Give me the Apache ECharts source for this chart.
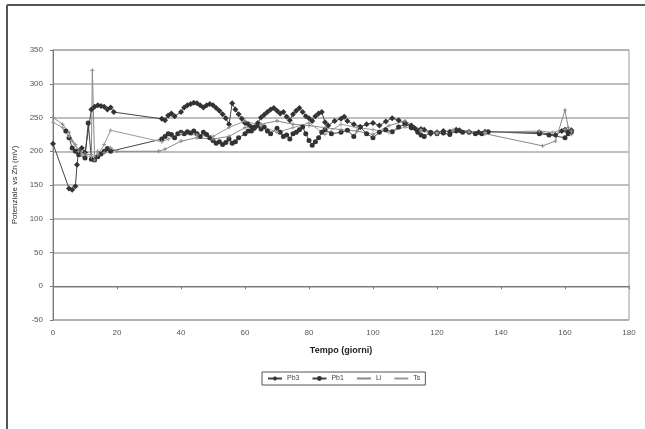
<!DOCTYPE html>
<html>
<head>
<meta charset="utf-8">
<script src="https://cdn.jsdelivr.net/npm/echarts@6/dist/echarts.min.js"></script>
<style>html,body{margin:0;padding:0;background:#fff}#c{width:645px;height:429px}</style>
</head>
<body>
<div id="c"></div>
<script>
var seriesNames = ["Pb3", "Pb1", "Li", "Ts"];
var xTicks = [0, 20, 40, 60, 80, 100, 120, 140, 160, 180];
var yTicks = [-50, 0, 50, 100, 150, 200, 250, 300, 350];

var daysA = [0,5,6,7,7.5,8,9,10,12,13,14,15,16,17,18,19,34,35,36,37,38,40,41,42,43,44,45,46,47,48,49,50,51,52,53,54,55,56,57,58,59,60,61,62,63,64,65,66,67,68,69,70,71,72,73,74,75,76,77,78,79,80,81,82,83,84,85,86,88,90,91,92,94,96,98,100,102,104,106,108,110,112,113,114,115,116,118,120,122,124,126,127,130,133,135,152,157,159,160,161,162];
var valsA = [211,145,143,148,180,200,205,198,262,266,268,267,266,262,265,258,248,246,253,256,252,258,265,268,270,272,271,268,265,268,270,268,264,260,255,249,240,271,262,255,248,242,240,236,234,242,250,254,258,262,264,260,256,258,251,246,255,260,264,258,252,249,245,252,256,258,243,238,245,248,251,245,240,236,240,242,238,244,249,246,242,238,234,230,233,232,226,228,230,229,232,231,229,228,229,228,224,230,232,228,231];

var daysB = [4,5,6,7,8,10,11,12,13,14,15,16,17,18,34,35,36,37,38,39,40,41,42,43,44,45,46,47,48,49,50,51,52,53,54,55,56,57,58,60,61,62,63,64,65,66,67,68,70,71,72,73,74,75,76,77,78,79,80,81,82,83,84,85,87,90,92,94,96,98,100,102,104,106,108,110,112,114,115,116,118,120,122,124,126,128,130,132,134,136,152,155,160,161,162];
var valsB = [230,220,205,200,195,190,242,188,187,192,196,200,204,200,218,222,226,225,220,226,228,226,229,227,230,226,222,228,225,220,216,212,214,210,213,218,212,214,220,226,230,230,236,238,233,236,230,226,234,228,222,224,218,226,228,232,236,226,216,209,214,220,228,232,226,228,231,222,236,226,220,228,232,229,236,240,235,228,224,222,228,226,227,225,230,228,228,226,226,229,226,224,220,226,229];

var daysC = [0,3,5,6,8,10,12,12.3,13,14,16,18,20,33,35,40,45,50,55,60,65,70,75,80,85,90,95,100,105,110,115,120,125,130,135,153,157,160,161,162];
var valsC = [250,240,228,215,200,196,195,320,187,200,198,205,200,200,203,215,220,218,222,235,240,245,240,238,235,232,230,225,238,245,232,228,230,228,226,208,215,261,235,225];

var daysD = [0,3,5,7,9,12,14,16,18,34,36,40,45,50,55,60,65,70,75,80,85,90,95,100,105,110,115,120,125,130,135,152,156,160,162];
var valsD = [243,235,222,210,195,192,195,210,231,214,218,226,224,222,235,245,238,228,235,242,225,240,235,232,228,236,230,226,232,230,228,230,228,232,230];

function pairs(d, v) { return d.map(function (x, i) { return [x, v[i]]; }); }

var chart = echarts.init(document.getElementById('c'), null, { renderer: 'canvas' });
var axisFont = { fontFamily: 'Liberation Sans, Arial', fontSize: 8, color: '#555' };
chart.setOption({
  animation: false,
  backgroundColor: '#fff',
  grid: { left: 53, right: 16, top: 50, bottom: 109, show: true, borderColor: '#999', borderWidth: 1 },
  xAxis: {
    type: 'value', min: xTicks[0], max: xTicks[xTicks.length - 1], interval: 20,
    name: 'Tempo (giorni)', nameLocation: 'middle', nameGap: 26,
    nameTextStyle: { fontFamily: 'Liberation Sans, Arial', fontSize: 9, fontWeight: 'bold', color: '#222' },
    axisLine: { lineStyle: { color: '#777' } },
    axisTick: { show: true, inside: false, length: 3, lineStyle: { color: '#777' } },
    axisLabel: Object.assign({ margin: 9 }, axisFont),
    splitLine: { show: false }
  },
  yAxis: {
    type: 'value', min: yTicks[0], max: yTicks[yTicks.length - 1], interval: 50,
    name: 'Potenziale vs Zn (mV)', nameLocation: 'middle', nameGap: 30, nameRotate: 90,
    nameTextStyle: { fontFamily: 'Liberation Sans, Arial', fontSize: 8, color: '#333' },
    axisLine: { show: true, lineStyle: { color: '#777' } },
    axisTick: { show: true, length: 3, lineStyle: { color: '#777' } },
    axisLabel: Object.assign({ margin: 10 }, axisFont),
    splitLine: { show: true, lineStyle: { color: '#aaa', width: 1.5 } }
  },
  legend: {
    data: seriesNames, left: 262, top: 372, orient: 'horizontal',
    borderColor: '#555', borderWidth: 1, padding: [3, 5], itemGap: 12,
    itemWidth: 14, itemHeight: 6,
    textStyle: { fontFamily: 'Liberation Sans, Arial', fontSize: 7, color: '#444' }
  },
  series: [
    { name: seriesNames[0], type: 'line', data: pairs(daysA, valsA), symbol: 'diamond', symbolSize: 6,
      lineStyle: { color: '#444', width: 1 }, itemStyle: { color: '#333' } },
    { name: seriesNames[1], type: 'line', data: pairs(daysB, valsB), symbol: 'circle', symbolSize: 5,
      lineStyle: { color: '#444', width: 1 }, itemStyle: { color: '#333' } },
    { name: seriesNames[2], type: 'line', data: pairs(daysC, valsC), symbol: 'path://M0,4L8,4M4,0L4,8', symbolSize: 4,
      lineStyle: { color: '#888', width: 1 }, itemStyle: { color: '#888', borderColor: '#888' } },
    { name: seriesNames[3], type: 'line', data: pairs(daysD, valsD), symbol: 'path://M0,4L8,4M4,0L4,8', symbolSize: 4,
      lineStyle: { color: '#999', width: 1 }, itemStyle: { color: '#999', borderColor: '#999' } }
  ],
  graphic: [
    { type: 'line', shape: { x1: 7, y1: 5, x2: 7, y2: 429 }, style: { stroke: '#555', lineWidth: 2 } },
    { type: 'line', shape: { x1: 7, y1: 5, x2: 645, y2: 5 }, style: { stroke: '#555', lineWidth: 2 } }
  ]
});
</script>
</body>
</html>
